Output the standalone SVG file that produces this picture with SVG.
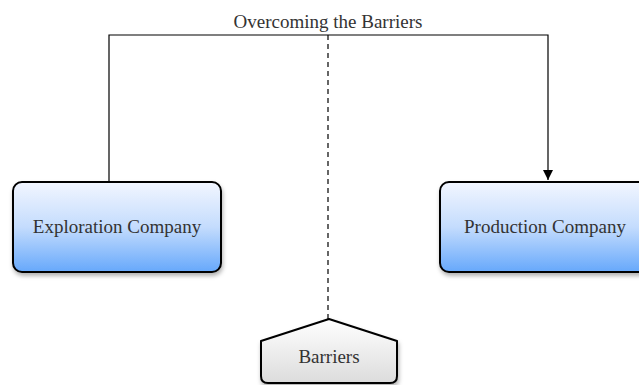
<svg xmlns="http://www.w3.org/2000/svg" width="639" height="385" viewBox="0 0 639 385">
<defs>
<linearGradient id="blue" x1="0" y1="0" x2="0" y2="1">
<stop offset="0" stop-color="#f2f6ff"/>
<stop offset="0.5" stop-color="#c4dcfd"/>
<stop offset="1" stop-color="#66a8fb"/>
</linearGradient>
<linearGradient id="gray" x1="0" y1="0" x2="0" y2="1">
<stop offset="0" stop-color="#ffffff"/>
<stop offset="1" stop-color="#dcdcdc"/>
</linearGradient>
<filter id="sh" x="-10%" y="-10%" width="125%" height="130%">
<feDropShadow dx="1" dy="3" stdDeviation="2" flood-color="#000" flood-opacity="0.3"/>
</filter>
<marker id="arr" viewBox="0 0 10 10" refX="10" refY="5" markerWidth="10" markerHeight="12" markerUnits="userSpaceOnUse" orient="auto">
<path d="M0,0 L10,5 L0,10 Z" fill="#000"/>
</marker>
</defs>
<style>
.node{stroke:#000;stroke-width:2}
.lbl{font-family:"Liberation Serif","Times New Roman",serif;font-size:19px;fill:#333;text-anchor:middle}
.conn{fill:none;stroke:#000;stroke-width:1.2}
</style>
<g id="connectors">
<path class="conn" d="M109,181 V35 H548 V180" marker-end="url(#arr)"/>
<path class="conn" d="M328,35 V319" stroke-dasharray="5,4"/>
<text class="lbl" x="328" y="28" style="fill:#333">Overcoming the Barriers</text>
</g>
<g id="exploration">
<rect class="node" x="13" y="182" width="208" height="90" rx="9" fill="url(#blue)" filter="url(#sh)"/>
<text class="lbl" x="117" y="233">Exploration Company</text>
</g>
<g id="production">
<rect class="node" x="440" y="182" width="208" height="90" rx="9" fill="url(#blue)" filter="url(#sh)"/>
<text class="lbl" x="545" y="233">Production Company</text>
</g>
<g id="barriers">
<path class="node" d="M329,319 L397,341 V376 Q397,383 390,383 H268 Q261,383 261,376 V341 Z" fill="url(#gray)" filter="url(#sh)" stroke-linejoin="round"/>
<text class="lbl" x="329" y="363">Barriers</text>
</g>
</svg>
